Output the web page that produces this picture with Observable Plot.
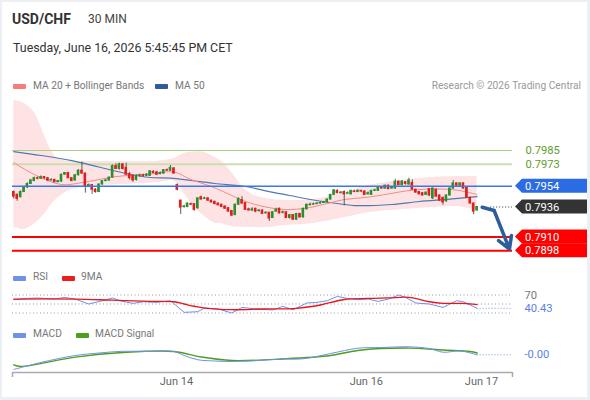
<!DOCTYPE html>
<html><head><meta charset="utf-8">
<script src="https://cdn.jsdelivr.net/npm/d3@7"></script>
<script src="https://cdn.jsdelivr.net/npm/@observablehq/plot@0.6"></script>
<style>
body{margin:0;background:#eceff3;font-family:Roboto,"Liberation Sans",Arial,sans-serif;}
#wrap{position:relative;width:590px;height:400px;overflow:hidden;}
#card{position:absolute;left:2px;top:2px;width:585px;height:395px;background:#fff;}
.t{position:absolute;white-space:nowrap;line-height:1;}
.lg{font-size:10.2px;color:#777;}
.sw{position:absolute;height:5px;width:13px;border-radius:1px;}
.panel{position:absolute;left:0;width:590px;}
</style></head><body>
<div id="wrap">
<div id="card"></div>
<div class="t" style="left:12px;top:12px;font-size:14px;font-weight:bold;color:#333">USD/CHF</div>
<div class="t" style="left:88px;top:13px;font-size:12px;color:#444">30 MIN</div>
<div class="t" style="left:13px;top:41.6px;font-size:12.4px;color:#333">Tuesday, June 16, 2026 5:45:45 PM CET</div>
<div class="sw" style="left:13px;top:84px;background:#f77c7c"></div>
<div class="t lg" style="left:33px;top:80.7px">MA 20 + Bollinger Bands</div>
<div class="sw" style="left:155px;top:84px;background:#2f5c9c"></div>
<div class="t lg" style="left:175px;top:80.7px">MA 50</div>
<div class="t lg" style="right:9px;top:80.7px;color:#999">Research © 2026 Trading Central</div>
<div class="sw" style="left:13px;top:276px;background:#6f91e8"></div>
<div class="t lg" style="left:33px;top:271.5px">RSI</div>
<div class="sw" style="left:62px;top:276px;background:#ee1c1c"></div>
<div class="t lg" style="left:81px;top:271.5px">9MA</div>
<div class="sw" style="left:13px;top:333px;background:#6f91e8"></div>
<div class="t lg" style="left:33px;top:329px">MACD</div>
<div class="sw" style="left:76px;top:333px;background:#4c9e1e"></div>
<div class="t lg" style="left:95px;top:329px">MACD Signal</div>
<div id="main" class="panel" style="top:95px"></div>
<div id="rsi" class="panel" style="top:281px"></div>
<div id="macd" class="panel" style="top:338px"></div>
</div>
<script>
// ---------- DATA ----------
const open = [
0.7949,0.79465,0.79445,0.7949,0.7953,0.7956,0.79585,0.7961,0.79605,0.7962,
0.7961,0.7959,0.79595,0.79575,0.7958,0.7964,0.79655,0.7961,0.7959,0.79635,
0.79675,0.7965,0.7954,0.7955,0.7951,0.7949,0.79555,0.79585,0.7959,0.79615,
0.79715,0.7969,0.7973,0.797,0.79645,0.7963,0.79595,0.7963,0.79635,0.7963,
0.7963,0.79665,0.7966,0.79645,0.7965,0.7968,0.79675,0.79695,0.7955,0.79415,
0.7936,0.7936,0.79385,0.79385,0.7935,0.79445,0.7943,0.79435,0.79415,0.79405,
0.7939,0.7938,0.79365,0.7935,0.79325,0.7929,0.7938,0.7942,0.79395,0.7934,
0.7933,0.79345,0.79325,0.7933,0.79305,0.7931,0.79265,0.7932,0.79345,0.7931,
0.79315,0.79265,0.7929,0.7925,0.793,0.7927,0.7934,0.79375,0.7938,0.79385,
0.7939,0.79395,0.794,0.79425,0.79465,0.795,0.7948,0.7949,0.79475,0.7947,
0.79495,0.7949,0.795,0.79495,0.7947,0.79465,0.795,0.795,0.79525,0.7952,
0.79545,0.7952,0.7952,0.7958,0.7955,0.79575,0.79555,0.7957,0.7951,0.7949,
0.7948,0.79465,0.79515,0.79435,0.7951,0.7946,0.7944,0.7941,0.7946,0.7952,
0.79565,0.79545,0.79565,0.79525,0.7944,0.7939,0.7933];
const close = [
0.7945,0.7943,0.7949,0.7953,0.7956,0.7959,0.7961,0.79605,0.7962,0.7961,
0.7959,0.79595,0.79575,0.79585,0.7964,0.79655,0.7961,0.79585,0.79635,0.79675,
0.7965,0.7954,0.7955,0.7951,0.7949,0.79555,0.79585,0.7959,0.79615,0.79715,
0.7969,0.7973,0.7969,0.7964,0.7961,0.7959,0.7963,0.79635,0.7963,0.7964,
0.7967,0.79655,0.7964,0.79655,0.7968,0.79675,0.797,0.7965,0.7951,0.79355,
0.79365,0.7939,0.7938,0.79335,0.79435,0.79425,0.79435,0.79415,0.794,0.79385,
0.79375,0.7936,0.79345,0.7932,0.79285,0.7938,0.7943,0.7939,0.79335,0.7933,
0.7934,0.7932,0.7933,0.793,0.7931,0.7926,0.79315,0.79335,0.79305,0.79315,
0.79265,0.7929,0.7925,0.793,0.7927,0.79345,0.7938,0.7938,0.79385,0.7939,
0.79395,0.794,0.79425,0.79465,0.79505,0.7948,0.79485,0.7947,0.7948,0.795,
0.7949,0.795,0.79495,0.79465,0.7948,0.795,0.79505,0.7953,0.7952,0.79545,
0.79515,0.7953,0.7958,0.7955,0.7958,0.7956,0.7959,0.7951,0.79485,0.7947,
0.7946,0.79485,0.7946,0.7952,0.7945,0.79415,0.794,0.7946,0.7952,0.79565,
0.79545,0.79565,0.7952,0.7944,0.7939,0.7932,0.7936];
const high = [
0.795,0.79475,0.795,0.7954,0.7957,0.796,0.7962,0.7962,0.7963,0.79625,
0.79615,0.79605,0.796,0.7959,0.79645,0.7966,0.7966,0.79615,0.7964,0.79685,
0.7975,0.79655,0.7956,0.79555,0.7952,0.7956,0.7959,0.796,0.7962,0.79725,
0.79735,0.7974,0.79735,0.7974,0.7966,0.7964,0.7964,0.79645,0.79645,0.7965,
0.79675,0.79675,0.7967,0.79665,0.79685,0.7969,0.7972,0.797,0.7956,0.7942,
0.79375,0.79395,0.79395,0.7939,0.7944,0.79455,0.79445,0.7944,0.7942,0.7941,
0.79395,0.79385,0.7937,0.79355,0.7933,0.79385,0.7944,0.7945,0.794,0.7935,
0.79355,0.7935,0.7934,0.79335,0.7932,0.79315,0.7932,0.7935,0.7935,0.79325,
0.7932,0.79295,0.79295,0.79305,0.79305,0.7935,0.79385,0.79395,0.79395,0.794,
0.79405,0.7941,0.7943,0.7947,0.7951,0.7951,0.79495,0.795,0.7949,0.79505,
0.79505,0.7951,0.79505,0.795,0.7949,0.79505,0.79515,0.79535,0.79535,0.7955,
0.7955,0.7954,0.796,0.79585,0.7959,0.7958,0.7961,0.79595,0.79515,0.79495,
0.79485,0.7949,0.7952,0.79525,0.79515,0.79465,0.79445,0.79465,0.79525,0.7959,
0.7957,0.7957,0.7957,0.7953,0.79445,0.79395,0.79365];
const low = [
0.7943,0.7941,0.7944,0.79485,0.7952,0.79555,0.7958,0.79595,0.796,0.796,
0.7958,0.79585,0.7957,0.7957,0.79575,0.79635,0.79605,0.7958,0.79585,0.7963,
0.79645,0.7948,0.7953,0.7947,0.7948,0.79485,0.7955,0.7958,0.79585,0.7961,
0.79685,0.7968,0.7968,0.79635,0.79595,0.79575,0.79585,0.7962,0.7962,0.79625,
0.79625,0.7965,0.79635,0.7964,0.79645,0.7967,0.7967,0.79645,0.795,0.79295,
0.7935,0.79355,0.7937,0.79325,0.7934,0.7942,0.79425,0.7941,0.79395,0.7938,
0.7937,0.79355,0.7934,0.79315,0.7928,0.79285,0.79375,0.79385,0.7933,0.79325,
0.7932,0.7931,0.79315,0.79295,0.793,0.79235,0.7926,0.79315,0.793,0.793,
0.7926,0.79255,0.79245,0.79245,0.79265,0.79265,0.79335,0.7937,0.79375,0.7938,
0.79385,0.7939,0.79395,0.7942,0.7946,0.79475,0.79475,0.7937,0.7947,0.79465,
0.79485,0.79485,0.79485,0.7946,0.79465,0.7946,0.79495,0.79495,0.79515,0.79515,
0.7951,0.79515,0.79515,0.79545,0.79545,0.7955,0.7955,0.79505,0.7948,0.79465,
0.79455,0.7946,0.7945,0.79425,0.79445,0.7941,0.79375,0.794,0.79455,0.79515,
0.7954,0.7954,0.79515,0.79435,0.79385,0.79295,0.79325];

// Bollinger bands (MA 20 ± 2σ), sampled at candle indices
const bandIdx = [0,3,6,9,11,13,16,21,25,35,43,47,50,53,56,59,61,64,67,70,74,80,88,96,104,114,123,130,136];
const bandUpper = [0.80284,0.8026,0.8018,0.7998,0.7985,0.7978,0.79755,0.79755,0.79755,0.79755,0.79759,0.79781,0.79825,0.79837,0.79833,0.7979,0.79755,0.7966,0.7954,0.79468,0.79434,0.79416,0.79425,0.79477,0.79546,0.7959,0.79616,0.79625,0.79625];
const bandLower = [0.7919,0.79165,0.7921,0.793,0.7938,0.7944,0.795,0.79538,0.79546,0.79559,0.79575,0.79585,0.7948,0.7936,0.7928,0.7922,0.79215,0.7919,0.79185,0.79182,0.79182,0.792,0.79218,0.7926,0.7931,0.79338,0.79356,0.79364,0.7933];
const ma20Idx = [0,6,14,20,25,30,40,47,52,58,64,68,74,80,86,92,97,103,110,115,122,130,136];
const ma20 = [0.79746,0.79642,0.79555,0.79572,0.79598,0.79624,0.79646,0.79664,0.79598,0.79538,0.7946,0.79408,0.7936,0.79338,0.79351,0.7939,0.79425,0.79442,0.79473,0.79499,0.79516,0.79507,0.79468];
const ma50Idx = [0,8,17,25,33,40,46,52,59,68,75,81,87,93,100,111,119,128,136];
const ma50 = [0.79841,0.79807,0.79763,0.79707,0.79651,0.79616,0.79611,0.7959,0.79564,0.79538,0.79494,0.7946,0.79425,0.79399,0.79373,0.79382,0.79408,0.79429,0.79451];

// Key levels
const resistance = [0.7985, 0.7973];
const pivot = 0.7954;
const lastPrice = 0.7936;
const support = [0.7910, 0.7898];

// Forecast arrow path (index, price)
const forecastIdx = [137.5, 141, 145.5];
const forecastPrice = [0.79358, 0.7933, 0.78995];

// RSI & 9MA
const rsiIdx = [0,4,7,12,15,18,22,26,29,31,35,38,42,46,50,54,56,60,64,67,71,76,79,82,86,89,92,95,98,101,104,107,110,113,115,118,122,126,130,132,134,136];
const rsi = [59.6,62.4,63.3,61,64.7,61,50,57.3,63.3,57.3,51.4,55,53.6,57.3,31.4,32.9,41,38.9,30,42.4,38.9,36.7,44.7,37.3,52.2,53.6,57.3,66.9,62.4,59.6,61,55.8,61,70,64.7,52.2,50,42.4,57.3,55,47.8,40.43];
const ma9Idx = [0,18,29,40,47,50,53,56,64,73,83,90,97,104,110,116,122,126,132,136];
const ma9 = [61,61,58.5,56,55,50,45,41,37.3,38.9,40.4,47.8,60,62.4,63.5,64.7,55,51.4,51.4,48.5];
const rsiLevels = [30, 50, 70];
const rsiLabels = [70];

// MACD
const macdIdx = [0,8,18,25,32,40,47,50,54,59,64,72,79,85,93,101,108,116,122,126,131,136];
const macd = [-0.001,-0.00056,-0.000125,0.00003,0.00014,0.000125,0.000125,-0.000125,-0.00039,-0.00047,-0.0005,-0.00044,-0.00034,-0.00033,0,0.00033,0.000375,0.00042,0.00031,0.00008,0.00016,-0.00008];
const signalIdx = [0,2,18,32,47,55,64,79,93,101,116,126,134,136];
const signal = [-0.00071,-0.00081,-0.00023,0.00006,0.000125,-0.00022,-0.00044,-0.00034,-0.000125,0.00019,0.00034,0.00022,0.000125,0.00003];

// Time axis
const tickIdx = [47.75, 103.5, 137.3];
const tickLabels = ["Jun 14", "Jun 16", "Jun 17"];

// ---------- STYLE ----------
const FONT = "Roboto, 'Liberation Sans', Arial, sans-serif";
const UP = "#27912a", DOWN = "#e41c1c", WICK = "#4a4a4a";
const BLUE_LINE = "#6f91e8";
const xDomain = [-0.38, 146.4];
const W = 590, ML = 12, MR = 78;
const LABEL_SIZE = 11.2;
const baseStyle = {fontFamily: FONT, fontSize: "11px", background: "transparent", overflow: "visible", color: "#666"};

const candles = open.map((o, i) => ({i, o, c: close[i], h: high[i], l: low[i]}));
const bandRows = bandIdx.map((i, k) => ({i, hi: bandUpper[k], lo: bandLower[k]}));
const ma20Rows = ma20Idx.map((i, k) => ({i, v: ma20[k]}));
const ma50Rows = ma50Idx.map((i, k) => ({i, v: ma50[k]}));
const fRows = forecastIdx.map((i, k) => ({i, v: forecastPrice[k]}));
const lastIdx = candles.length - 1;

const main = Plot.plot({
  width: W, height: 170, marginLeft: ML, marginRight: MR, marginTop: 0, marginBottom: 0,
  x: {domain: xDomain, axis: null},
  y: {domain: [0.78853, 0.80327], axis: null},
  color: {type: "identity"},
  style: baseStyle,
  marks: [
    Plot.areaY(bandRows, {x: "i", y1: "lo", y2: "hi", fill: "#fde3e3", curve: "catmull-rom"}),
    Plot.ruleY([resistance[0]], {stroke: "#a6d27f", strokeWidth: 1.2}),
    Plot.ruleY([resistance[1]], {stroke: "#cadfb0", strokeWidth: 2}),
    Plot.ruleY(support, {stroke: "#ff0000", strokeWidth: 2}),
    Plot.line(ma50Rows, {x: "i", y: "v", stroke: "#4f78b3", strokeWidth: 1.2, curve: "catmull-rom"}),
    Plot.line(ma20Rows, {x: "i", y: "v", stroke: "#f28b8b", strokeWidth: 1, curve: "catmull-rom"}),
    Plot.ruleX(candles, {x: "i", y1: "l", y2: "h", stroke: WICK, strokeWidth: 0.9}),
    Plot.rect(candles, {x1: d => d.i - 0.38, x2: d => d.i + 0.38, y1: "o", y2: "c",
      fill: d => d.c >= d.o ? UP : DOWN, insetTop: -0.5, insetBottom: -0.5}),
    Plot.ruleY([pivot], {stroke: "#3b78e7", strokeWidth: 1.5}),
    Plot.ruleY([lastPrice], {x1: lastIdx + 4, x2: xDomain[1], stroke: "#333", strokeDasharray: "1,2"}),
    Plot.line(fRows.slice(0, 2), {x: "i", y: "v", stroke: "#2d5e9c", strokeWidth: 3.5, strokeLinecap: "round"}),
    Plot.arrow([{a: fRows[1], b: fRows[2]}], {x1: d => d.a.i, y1: d => d.a.v, x2: d => d.b.i, y2: d => d.b.v,
      stroke: "#2d5e9c", strokeWidth: 3.5, headLength: 12, headAngle: 60}),
    Plot.text(resistance, {y: d => d, text: d => d.toFixed(4), frameAnchor: "right", dx: 13, textAnchor: "start",
      fill: "#5c9e2c", fontSize: LABEL_SIZE})
  ]
});
document.getElementById("main").appendChild(main);

// price tags on the right, positioned with the plot's y scale
const yMain = main.scale("y");
const tagRows = [
  {v: pivot, fill: "#2b6be3"},
  {v: lastPrice, fill: "#333333"},
  {v: support[0], fill: "#ff0000"},
  {v: support[1], fill: "#ff0000"}
];
const tg = d3.select(main).append("g").attr("font-family", FONT).attr("font-size", LABEL_SIZE).attr("text-anchor", "start");
const x0 = W - MR + 3, x1 = 587, hh = 7;
tagRows.forEach(t => {
  const y = yMain.apply(t.v);
  tg.append("path")
    .attr("d", `M${x0},${y}L${x0 + 7},${y - hh}L${x1},${y - hh}L${x1},${y + hh}L${x0 + 7},${y + hh}Z`)
    .attr("fill", t.fill);
  tg.append("text").attr("x", x0 + 10).attr("y", y).attr("dy", "0.36em").attr("text-anchor", "start")
    .attr("fill", "#fff").text(t.v.toFixed(4));
});

// RSI panel
const rsiRows = rsiIdx.map((i, k) => ({i, v: rsi[k]}));
const ma9Rows = ma9Idx.map((i, k) => ({i, v: ma9[k]}));
const lastRsi = rsi[rsi.length - 1];
const rsiChart = Plot.plot({
  width: W, height: 45, marginLeft: ML, marginRight: MR, marginTop: 0, marginBottom: 0,
  x: {domain: xDomain, axis: null},
  y: {domain: [0, 100], axis: null},
  style: baseStyle,
  marks: [
    Plot.ruleY(rsiLevels, {stroke: "#999", strokeDasharray: "1,2.5"}),
    Plot.line(rsiRows, {x: "i", y: "v", stroke: BLUE_LINE, strokeWidth: 1}),
    Plot.line(ma9Rows, {x: "i", y: "v", stroke: "#e8141c", strokeWidth: 1.3, curve: "catmull-rom"}),
    Plot.ruleY([lastRsi], {x1: rsiIdx[rsiIdx.length - 1], x2: xDomain[1], stroke: BLUE_LINE, strokeDasharray: "1,2"}),
    Plot.text(rsiLabels, {y: d => d, text: d => String(d), frameAnchor: "right", dx: 12, textAnchor: "start", fill: "#777", fontSize: LABEL_SIZE}),
    Plot.text([lastRsi], {y: d => d, text: d => d.toFixed(2), frameAnchor: "right", dx: 12, textAnchor: "start", fill: "#5b7fe6", fontSize: LABEL_SIZE})
  ]
});
document.getElementById("rsi").appendChild(rsiChart);

// MACD panel + time axis
const macdRows = macdIdx.map((i, k) => ({i, v: macd[k]}));
const signalRows = signalIdx.map((i, k) => ({i, v: signal[k]}));
const lastMacd = macd[macd.length - 1];
const macdDomain = [-0.00119, 0.00094];
const tickRows = tickIdx.map((i, k) => ({i, label: tickLabels[k]}));
const macdChart = Plot.plot({
  width: W, height: 60, marginLeft: ML, marginRight: MR, marginTop: 0, marginBottom: 26,
  x: {domain: xDomain, axis: null},
  y: {domain: macdDomain, axis: null},
  style: baseStyle,
  marks: [
    Plot.line(signalRows, {x: "i", y: "v", stroke: "#4c9e1e", strokeWidth: 1.4, curve: "catmull-rom"}),
    Plot.line(macdRows, {x: "i", y: "v", stroke: BLUE_LINE, strokeWidth: 1, curve: "catmull-rom"}),
    Plot.ruleY([lastMacd], {x1: macdIdx[macdIdx.length - 1], x2: xDomain[1], stroke: BLUE_LINE, strokeDasharray: "1,2"}),
    Plot.text([lastMacd], {y: d => d, text: d => d.toFixed(2), frameAnchor: "right", dx: 12, textAnchor: "start", fill: "#5b7fe6", fontSize: LABEL_SIZE}),
    Plot.ruleY([macdDomain[0]], {stroke: "#aaa", strokeWidth: 1.5}),
    Plot.ruleX(xDomain, {y1: macdDomain[0], y2: macdDomain[0], insetBottom: -5, stroke: "#aaa", strokeWidth: 1.5}),
    Plot.text(tickRows, {x: "i", text: "label", frameAnchor: "bottom", dy: 12, fill: "#666", fontSize: 11})
  ]
});
document.getElementById("macd").appendChild(macdChart);
</script>
</body></html>
